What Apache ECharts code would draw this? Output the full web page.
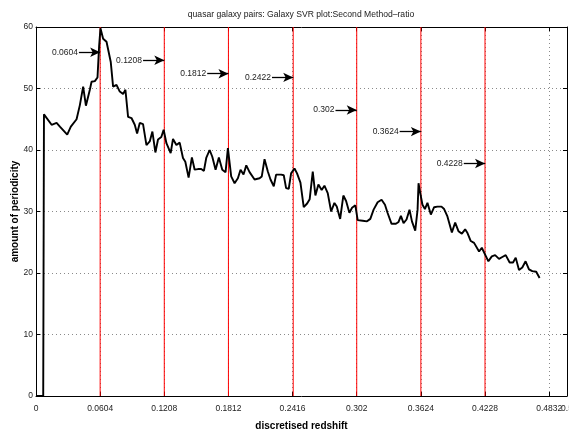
<!DOCTYPE html>
<html>
<head>
<meta charset="utf-8">
<script src="https://cdn.jsdelivr.net/npm/echarts@6/dist/echarts.min.js"></script>
<style>
html,body{margin:0;padding:0;background:#fff;}
#chart{width:569px;height:431px;}
</style>
</head>
<body>
<div id="chart"></div>
<script>
// ---- data ----
const redshift = [0,0.0068,0.0075,0.0085,0.0147,0.0194,0.0225,0.0294,0.0328,0.0382,0.0413,0.0444,0.047,0.0507,0.0523,0.0554,0.0579,0.0594,0.0607,0.0632,0.0664,0.0704,0.0726,0.0758,0.0789,0.082,0.0842,0.0867,0.0899,0.093,0.0952,0.0977,0.1008,0.104,0.1071,0.1096,0.1124,0.1149,0.118,0.1202,0.1228,0.1268,0.129,0.1322,0.1353,0.1384,0.1406,0.1437,0.1468,0.1494,0.1525,0.1556,0.1581,0.1603,0.1635,0.166,0.1691,0.1722,0.1754,0.1785,0.1807,0.1838,0.187,0.1901,0.1926,0.1954,0.198,0.2011,0.2058,0.2105,0.2126,0.2152,0.2183,0.2208,0.2239,0.2261,0.2309,0.2333,0.2355,0.238,0.2402,0.2434,0.2458,0.249,0.2521,0.2553,0.2577,0.2606,0.2631,0.2659,0.269,0.2716,0.2747,0.2779,0.281,0.2832,0.2864,0.2894,0.292,0.2951,0.2976,0.3007,0.3029,0.3076,0.3117,0.3148,0.3179,0.3217,0.3254,0.3286,0.331,0.3348,0.3389,0.3414,0.3436,0.3461,0.3489,0.3517,0.354,0.3571,0.3593,0.3602,0.3618,0.3639,0.3662,0.3686,0.3718,0.3749,0.378,0.3818,0.3843,0.3874,0.3916,0.3947,0.3978,0.401,0.4041,0.4063,0.4094,0.4125,0.4172,0.4198,0.4229,0.426,0.4292,0.4323,0.436,0.4391,0.4423,0.446,0.4492,0.4517,0.4548,0.4579,0.461,0.4642,0.4673,0.471,0.4742];
const periodicity = [0,0,45.8,45.8,44.1,44.4,43.8,42.5,43.8,45,47.3,50.3,47.2,49.8,51.1,51.2,51.8,56.8,59.8,58.1,57.6,54.3,50.3,50.6,49.5,49.1,49.8,45.4,45.2,44.1,42.7,44.4,44.2,40.8,41.4,43,39.6,41.7,42.1,43.3,41.1,39.5,41.8,40.8,41.2,38.7,38.1,35.5,38.8,36.8,36.9,36.9,36.6,38.7,40,38.9,36.8,38.8,36.8,36.4,40.3,35.7,34.6,35.4,36.8,36,37.5,36.4,35.2,35.4,35.7,38.5,36.5,35.2,34.1,36,36,35.9,33.8,33.7,36.2,37,36.2,34.7,30.7,31.3,32,36.5,32.6,34.4,33.5,34.2,33,30,31.4,30.8,28.8,32.6,31.7,29.8,30.6,31,28.6,28.5,28.4,28.8,30.3,31.5,31.9,31.1,29.8,28,28,28.3,29.3,28.1,28.7,30.3,28.4,26.9,30.3,34.6,33,31.1,30.4,31.4,29.5,30.7,30.8,30.8,30.4,29.2,26.6,28.2,26.8,26.4,27.1,26.5,25.2,24.9,23.5,24.1,23,21.9,22.7,22.9,22.3,22.6,22.9,21.7,21.7,22.5,20.5,20.9,21.9,20.6,20.3,20.2,19.2];
const markerX = [0.0604, 0.1208, 0.1812, 0.2422, 0.302, 0.3624, 0.4228];
const markerLabels = ['0.0604', '0.1208', '0.1812', '0.2422', '0.302', '0.3624', '0.4228'];
const markerArrowY = [55.9, 54.6, 52.4, 51.8, 46.5, 43.0, 37.8];
const xTickStep = 0.0604;
const yTickStep = 10;
const xMin = 0, xMax = 0.5, yMin = 0, yMax = 60;

// ---- chart ----
const FONT = 'Liberation Sans, Arial, sans-serif';
const ARROW_LEN = 0.02;
const chart = echarts.init(document.getElementById('chart'), null, {renderer: 'canvas'});

const lineData = redshift.map((x, i) => [x, periodicity[i]]);
const arrows = markerX.map((x, i) => [
  {coord: [x - ARROW_LEN, markerArrowY[i]], name: markerLabels[i]},
  {coord: [x, markerArrowY[i]]}
]);

const dotted = {show: true, lineStyle: {color: '#8a8a8a', width: 1, type: [1, 3]}};
const axLine = {show: true, onZero: false, lineStyle: {color: '#000', width: 1}};
const axTick = {show: true, inside: true, length: 4, lineStyle: {color: '#000', width: 1}};
const tickFont = {fontFamily: FONT, fontSize: 8.5, color: '#222'};
const fmt = v => String(+v.toFixed(4));

const redSeries = markerX.map(x => ({
  type: 'line', data: [[x, yMin], [x, yMax]], z: 1, silent: true,
  showSymbol: false, symbol: 'none',
  lineStyle: {color: '#ff0000', width: 1}
}));

const option = {
  animation: false,
  backgroundColor: '#fff',
  title: {
    text: 'quasar galaxy pairs: Galaxy SVR plot:Second Method\u2013ratio',
    left: 301, top: 10, padding: 0, textAlign: 'center',
    textStyle: {fontFamily: FONT, fontSize: 8.6, fontWeight: 'normal', color: '#1a1a1a'}
  },
  grid: {left: 36, right: 2, top: 27, bottom: 35, containLabel: false, outerBoundsMode: 'none'},
  xAxis: [{
    type: 'value', min: xMin, max: xMax, interval: xTickStep,
    name: 'discretised redshift', nameLocation: 'middle', nameGap: 25, nameMoveOverlap: false,
    nameTextStyle: {fontFamily: FONT, fontSize: 10, fontWeight: 'bold', color: '#000'},
    axisLine: axLine, axisTick: axTick,
    axisLabel: Object.assign({margin: 8, showMaxLabel: false, showMinLabel: true, formatter: fmt}, tickFont),
    splitLine: dotted
  }, {
    type: 'value', position: 'top', min: xMin, max: xMax, interval: xTickStep,
    axisLine: axLine, axisTick: axTick, axisLabel: {show: false}, splitLine: {show: false}
  }, {
    // carries only the end label "0.5", which sits right against "0.4832" as in the reference
    type: 'value', position: 'bottom', min: xMin, max: xMax, interval: xTickStep,
    axisLine: {show: false, onZero: false}, axisTick: {show: false}, splitLine: {show: false},
    axisLabel: Object.assign({margin: 8, showMaxLabel: true, showMinLabel: false,
      formatter: v => (v === xMax ? fmt(v) : '')}, tickFont)
  }],
  yAxis: [{
    type: 'value', min: yMin, max: yMax, interval: yTickStep,
    name: 'amount of periodicity', nameLocation: 'middle', nameGap: 16, nameMoveOverlap: false,
    nameTextStyle: {fontFamily: FONT, fontSize: 10, fontWeight: 'bold', color: '#000'},
    axisLine: axLine, axisTick: axTick,
    axisLabel: Object.assign({margin: 3}, tickFont),
    splitLine: dotted
  }, {
    type: 'value', position: 'right', min: yMin, max: yMax, interval: yTickStep,
    axisLine: axLine, axisTick: axTick, axisLabel: {show: false}, splitLine: {show: false}
  }],
  series: redSeries.concat([{
    name: 'periodicity', type: 'line', data: lineData, z: 3,
    showSymbol: false, symbol: 'none', smooth: false,
    lineStyle: {color: '#000', width: 1.9}
  }, {
    name: 'arrows', type: 'line', data: [], z: 5, silent: true,
    markLine: {
      silent: true, symbol: ['none', 'arrow'], symbolSize: [7, 10], animation: false,
      lineStyle: {color: '#000', width: 1.3, type: 'solid'},
      label: Object.assign({show: true, position: 'start', distance: 1, formatter: p => p.name}, tickFont),
      data: arrows
    }
  }])
};
chart.setOption(option);
</script>
</body>
</html>
